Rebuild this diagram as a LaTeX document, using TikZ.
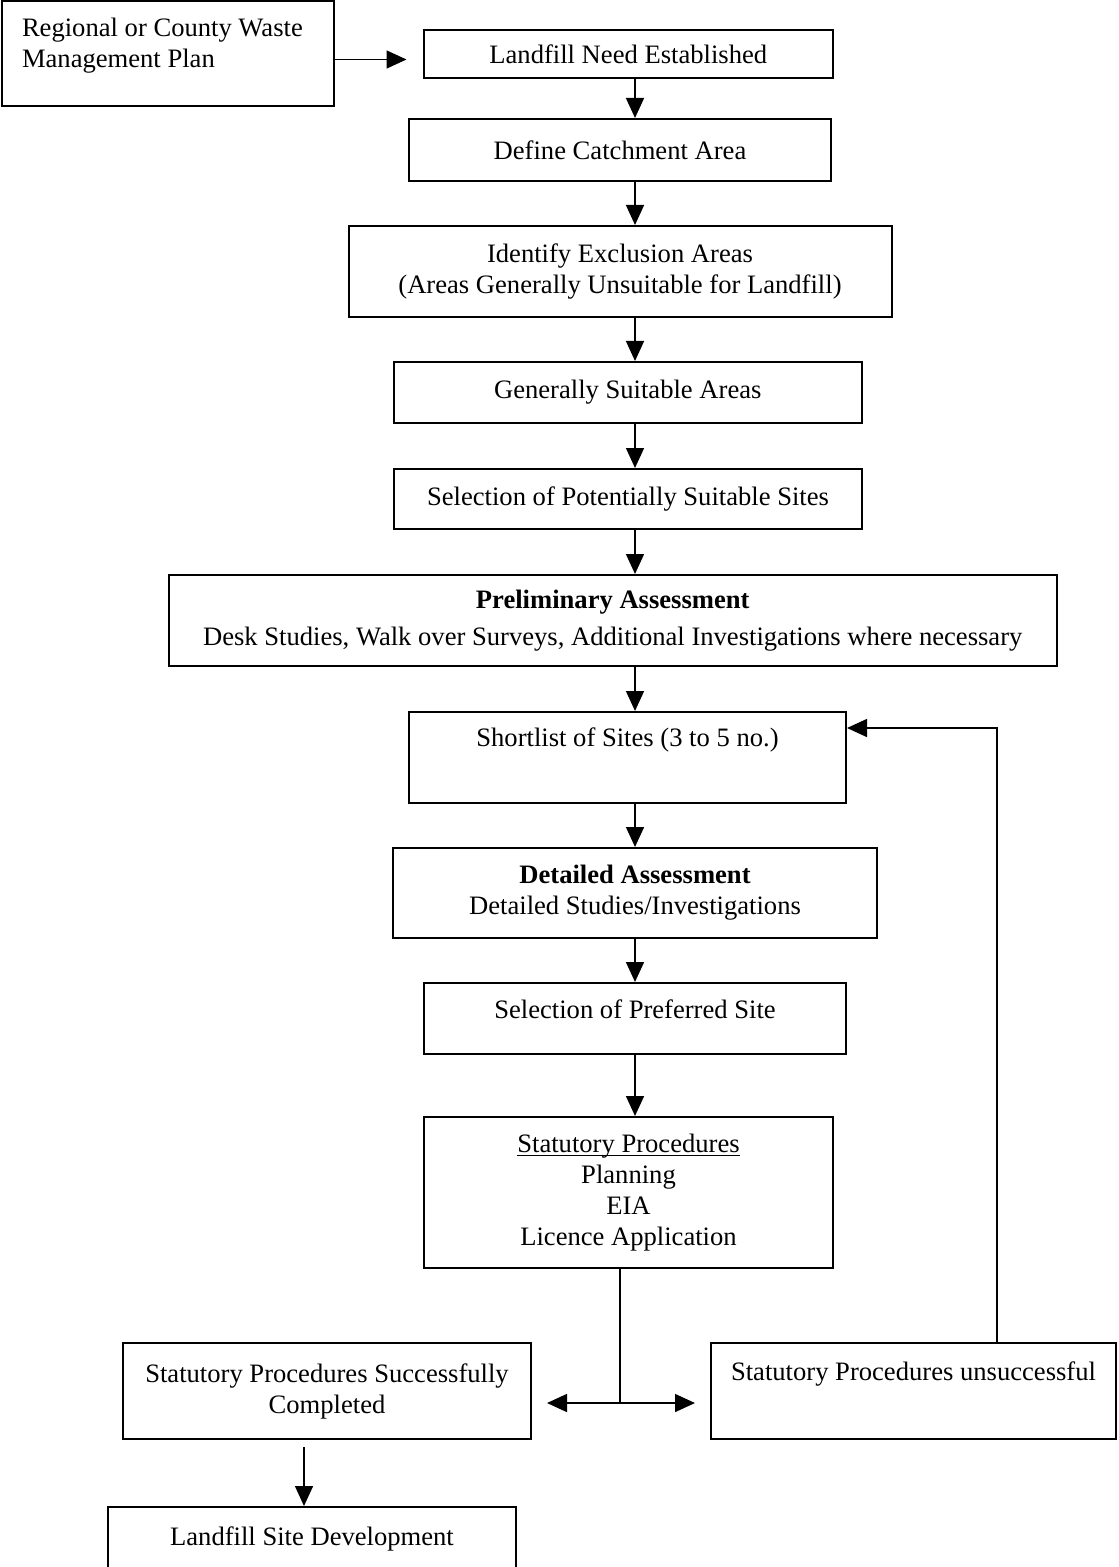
\documentclass[tikz,border=0pt]{standalone}
\usepackage{fontspec}
\setmainfont{Liberation Serif}
\usetikzlibrary{arrows.meta}

\newcommand{\ulword}[1]{{\setbox0\hbox{#1}\rlap{\rule[-2pt]{\wd0}{0.7pt}}\box0}}

\tikzset{
  box/.style={draw, line width=1pt, align=center, inner sep=0pt, font=\fontsize{13.3}{15.5}\selectfont},
  link/.style={line width=0.75pt}
}

\begin{document}
\begin{tikzpicture}[x=0.5pt, y=-0.5pt, >={Triangle[length=10pt,width=9pt]}]
\useasboundingbox (0,0) rectangle (1118,1567);

\node [box, minimum width=166pt, minimum height=52.5pt, text width=146pt, align=flush left] (plan) at (168,53.5) {Regional or County Waste\\ Management Plan\\[-9.5pt]\strut};
\node [box, minimum width=204.75pt, minimum height=24pt] (need) at (628.25,54) {Landfill Need Established};
\node [box, minimum width=211pt, minimum height=31pt] (catch) at (620,150) {Define Catchment Area};
\node [box, minimum width=271.5pt, minimum height=45.5pt] (excl) at (620,271.5) {Identify Exclusion Areas\\ (Areas Generally Unsuitable for Landfill)};
\node [box, minimum width=234.25pt, minimum height=30.5pt] (general) at (627.75,392.5) {Generally Suitable Areas};
\node [box, minimum width=234pt, minimum height=30pt] (select) at (628,499) {Selection of Potentially Suitable Sites};
\node [box, minimum width=444.25pt, minimum height=45.5pt] (prelim) at (612.75,620.5) {\textbf{Preliminary Assessment}\\[3pt] Desk Studies, Walk over Surveys, Additional Investigations where necessary};
\node [box, minimum width=218.5pt, minimum height=45.5pt] (short) at (627.5,757.5) {Shortlist of Sites (3 to 5 no.)\\ \strut};
\node [box, minimum width=242pt, minimum height=45pt] (detail) at (635,893) {\textbf{Detailed Assessment}\\ Detailed Studies/Investigations};
\node [box, minimum width=211pt, minimum height=35.5pt] (prefer) at (635,1018.5) {Selection of Preferred Site\\[-11pt] \strut};
\node [box, minimum width=204.5pt, minimum height=75.5pt] (statut) at (628.5,1192.5) {\ulword{Statutory Procedures}\\ Planning\\ EIA\\ Licence Application};
\node [box, minimum width=204pt, minimum height=48pt] (success) at (327,1391) {Statutory Procedures Successfully\\ Completed};
\node [box, minimum width=202.5pt, minimum height=48pt] (unsucc) at (913.5,1391) {Statutory Procedures unsuccessful\\ \strut};
\node [box, minimum width=204pt, minimum height=31.5pt] (develop) at (312,1538.5) {Landfill Site Development};

\coordinate (split) at (620,1403);
\coordinate (loop) at (997,728);
\coordinate (drop) at (304,1447);

\draw [link, ->, shorten >=8pt] ([yshift=-3pt]plan.east) -- ([yshift=-3pt]plan.east -| need.west);

\draw [link, ->] (need.south -| detail) -- (catch.north -| detail);
\draw [link, ->] (catch.south -| detail) -- (excl.north -| detail);
\draw [link, ->] (excl.south -| detail) -- (general.north -| detail);
\draw [link, ->] (general.south -| detail) -- (select.north -| detail);
\draw [link, ->] (select.south -| detail) -- (prelim.north -| detail);
\draw [link, ->] (prelim.south -| detail) -- (short.north -| detail);
\draw [link, ->] (short.south -| detail) -- (detail.north);
\draw [link, ->] (detail.south) -- (prefer.north -| detail);
\draw [link, ->] (prefer.south -| detail) -- (statut.north -| detail);

\draw [link] (statut.south -| split) -- (split);
\draw [link, ->, shorten >=7.5pt] (split) -- (split -| success.east);
\draw [link, ->, shorten >=7.5pt] (split) -- (split -| unsucc.west);

\draw [link, ->] (unsucc.north -| loop) -- (loop) -- (loop -| short.east);

\draw [link, ->] (drop) -- (drop |- develop.north);

\end{tikzpicture}
\end{document}
